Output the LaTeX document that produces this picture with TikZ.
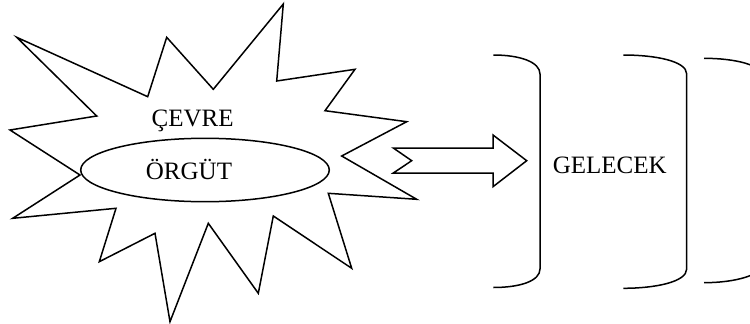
\documentclass[tikz,border=0pt]{standalone}
\usepackage{fontspec}
\setmainfont{Liberation Serif}
\usetikzlibrary{shapes.geometric}
\begin{document}
\begin{tikzpicture}[x=1pt,y=-1pt,
  shapeline/.style={draw=black, line width=1.5pt, line join=miter},
  lbl/.style={font=\fontsize{25}{30}\selectfont, inner sep=0pt, anchor=base},
  bracketline/.style={draw=black, line width=1.5pt}]
\useasboundingbox (0,0) rectangle (750,324);
\clip (0,0) rectangle (750,324);
% starburst (cevre)
\draw[shapeline, fill=white] (16.7,37.3) -- (147.7,96.7) -- (166.7,37.3) -- (213.3,89.3)
  -- (283.3,4) -- (276.7,81) -- (355,69.3) -- (325,110.7) -- (406.7,121.7)
  -- (341.7,156) -- (416.7,199.3) -- (328.3,193.3) -- (351.7,268.3) -- (273.3,216)
  -- (258.3,293.3) -- (208.3,223.3) -- (170,321.7) -- (155,233.3) -- (99.3,261.7)
  -- (116,208.3) -- (12.7,218.3) -- (80,175) -- (10,130) -- (96.7,116) -- cycle;
% ellipse (orgut)
\node[shapeline, ellipse, minimum width=248.6pt, minimum height=63.4pt, inner sep=0pt] (orgut) at (205,170) {};
\node[lbl] (cevretext) at (192.7,126.7) {ÇEVRE};
\node[lbl] (orguttext) at (189,179) {ÖRGÜT};
% block arrow
\coordinate (arrtail) at (411.7,160.7);
\coordinate (arrtip) at (526.7,160.7);
\draw[shapeline, fill=white] (393.3,148) -- (493,148) -- (493,135) -- (arrtip)
  -- (493,186.7) -- (493,173) -- (393.3,173) -- (arrtail) -- cycle;
% brackets
\draw[bracketline] (493.3,55) .. controls (520,55) and (540,62) .. (540,74)
  -- (540,269) .. controls (540,281) and (520,287.5) .. (493.3,287.5);
\draw[bracketline] (623.3,55) .. controls (655,55) and (686.7,61) .. (686.7,74)
  -- (686.7,269) .. controls (686.7,282) and (655,288.3) .. (623.3,288.3);
\draw[bracketline] (704,58.3) .. controls (735,58.3) and (764,65) .. (764,78)
  -- (764,262) .. controls (764,275) and (735,282.7) .. (704,282.7);
\node[lbl] (gelecek) at (609.7,173) {GELECEK};
\end{tikzpicture}
\end{document}
